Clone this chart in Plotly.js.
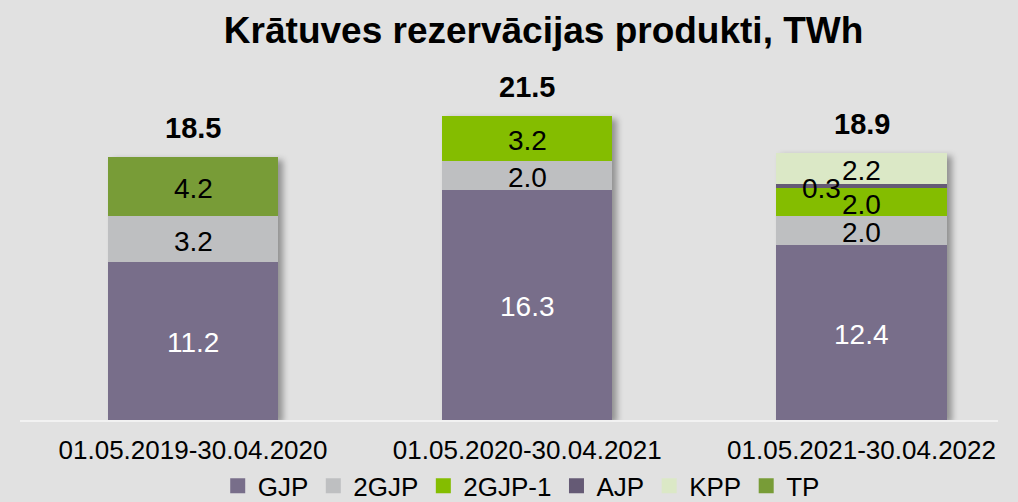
<!DOCTYPE html>
<html>
<head>
<meta charset="utf-8">
<script src="https://cdn.plot.ly/plotly-3.0.1.min.js"></script>
<style>
  html, body { margin: 0; padding: 0; background: #e1e1e1; }
  #chart { width: 1018px; height: 502px; }
  .barlayer { filter: drop-shadow(5px 3px 3px rgba(0,0,0,0.35)); }
</style>
</head>
<body>
<div id="chart"></div>
<script>
const categories = ["01.05.2019-30.04.2020", "01.05.2020-30.04.2021", "01.05.2021-30.04.2022"];
const seriesNames = ["GJP", "2GJP", "2GJP-1", "AJP", "KPP", "TP"];
const GJP   = [11.2, 16.3, 12.4];
const GJP2  = [3.2, 2.0, 2.0];
const GJP2_1 = [null, 3.2, 2.0];
const AJP   = [null, null, 0.3];
const KPP   = [null, null, 2.2];
const TP    = [4.2, null, null];
const totals = [18.5, 21.5, 18.9];
const title = "Krātuves rezervācijas produkti, TWh";

const seriesValues = [GJP, GJP2, GJP2_1, AJP, KPP, TP];
const colors = ["#786e8a", "#bebfc1", "#84bd00", "#655a75", "#dbe8c6", "#789c37"];
const labelColors = ["#ffffff", "#000000", "#000000", "#000000", "#000000", "#000000"];
const labelXShift = [0, 0, 0, -40, 0, 0];

const FONT = "Liberation Sans, Arial, sans-serif";
const traces = [];
const annotations = [];
const cum = categories.map(() => 0);

seriesValues.forEach((vals, s) => {
  traces.push({
    type: "bar",
    name: seriesNames[s],
    x: categories,
    y: vals,
    marker: { color: colors[s], line: { width: 0 } },
    showlegend: false,
    hoverinfo: "skip"
  });
  // legend proxy
  traces.push({
    type: "scatter",
    mode: "markers",
    name: seriesNames[s],
    x: [null], y: [null],
    marker: { symbol: "square", size: 15, color: colors[s] },
    showlegend: true
  });
  vals.forEach((v, i) => {
    if (v === null || v === undefined) return;
    annotations.push({
      x: categories[i], y: cum[i] + v / 2, xref: "x", yref: "y",
      text: v.toFixed(1), showarrow: false,
      xshift: labelXShift[s], yshift: -2,
      font: { family: FONT, size: 28, color: labelColors[s] }
    });
    cum[i] += v;
  });
});

totals.forEach((t, i) => {
  annotations.push({
    x: categories[i], y: cum[i], xref: "x", yref: "y",
    text: "<b>" + t.toFixed(1) + "</b>", showarrow: false,
    yanchor: "middle", yshift: 29,
    font: { family: FONT, size: 29, color: "#000000" }
  });
});

const layout = {
  width: 1018, height: 502,
  paper_bgcolor: "#e1e1e1", plot_bgcolor: "#e1e1e1",
  margin: { l: 20, r: 20, t: 80, b: 82, autoexpand: false },
  barmode: "stack",
  bargap: 0.491,
  title: {
    text: "<b>" + title + "</b>",
    x: 0.534, xanchor: "center", xref: "container",
    y: 0.94, yanchor: "middle", yref: "container",
    font: { family: FONT, size: 37, color: "#000000" }
  },
  xaxis: {
    type: "category",
    range: [-0.5176, 2.4083],
    automargin: false,
    showgrid: false, zeroline: false,
    showline: true, linecolor: "#f2f2f2", linewidth: 2,
    ticks: "", ticklabelstandoff: 6,
    tickfont: { family: FONT, size: 26, color: "#000000" }
  },
  yaxis: {
    range: [0, 24.05],
    automargin: false,
    visible: false, showgrid: false, zeroline: false
  },
  legend: {
    orientation: "h",
    traceorder: "normal",
    xref: "container", yref: "paper",
    x: 0.512, xanchor: "center",
    y: -0.194, yanchor: "middle",
    font: { family: FONT, size: 26, color: "#000000" },
    bgcolor: "rgba(0,0,0,0)",
    itemwidth: 30,
    tracegroupgap: 0
  },
  annotations: annotations
};

Plotly.newPlot("chart", traces, layout, { displayModeBar: false, staticPlot: true });
</script>
</body>
</html>
